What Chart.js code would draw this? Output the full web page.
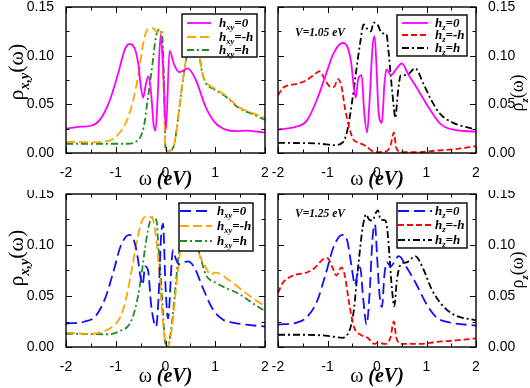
<!DOCTYPE html>
<html>
<head>
<meta charset="utf-8">
<script src="https://cdn.jsdelivr.net/npm/chart.js@4.4.1/dist/chart.umd.min.js"></script>
<style>
body { margin: 0; background: #fff; }
#wrap { position: relative; width: 530px; height: 388px; }
#wrap canvas { position: absolute; }
</style>
</head>
<body>
<div id="wrap">
  <canvas id="tl" width="270" height="190" style="left:0;top:0"></canvas>
  <canvas id="tr" width="260" height="190" style="left:270px;top:0"></canvas>
  <canvas id="bl" width="270" height="198" style="left:0;top:190px"></canvas>
  <canvas id="br" width="260" height="198" style="left:270px;top:190px"></canvas>
</div>
<script>
// ticks
const xTicks = [-2, -1, 0, 1, 2];
const yTicks = [0, 0.05, 0.10, 0.15];

// legend texts (h_sub + rest)
const legendRest = ['=0', '=-h', '=h'];
const subXY = 'xy';
const subZ = 'z';
const notes = ['V=1.05 eV', 'V=1.25 eV'];

// ---- top left: rho_xy, V=1.05 ----
const tlX0 = [-2,-1.7,-1.5,-1.32,-1.12,-0.95,-0.82,-0.72,-0.61,-0.54,-0.5,-0.45,-0.39,-0.34,-0.29,-0.24,-0.2,-0.16,-0.1,-0.05,0.01,0.08,0.18,0.28,0.45,0.61,0.81,1.0,1.21,1.41,1.61,2.0];
const tlY0 = [0.025,0.027,0.028,0.034,0.054,0.082,0.106,0.112,0.106,0.089,0.07,0.057,0.072,0.079,0.062,0.03,0.023,0.055,0.121,0.09,0.024,0.105,0.09,0.083,0.087,0.075,0.047,0.031,0.024,0.0225,0.023,0.021];
const tlXm = [-2,-1.46,-1.12,-0.95,-0.78,-0.65,-0.54,-0.46,-0.36,-0.24,-0.17,-0.12,-0.07,-0.02,0,0.05,0.15,0.21,0.28,0.35,0.41,0.5,0.6,0.68,0.74,0.81,1.0,1.21,1.48,1.75,2.0];
const tlYm = [0.0115,0.011,0.013,0.019,0.033,0.054,0.082,0.109,0.127,0.128,0.124,0.127,0.106,0.036,0.004,0.002,0.005,0.019,0.047,0.075,0.095,0.115,0.115,0.1,0.082,0.073,0.066,0.059,0.047,0.041,0.036];
const tlXp = [-2,-1.2,-0.78,-0.58,-0.44,-0.36,-0.27,-0.19,-0.12,-0.07,-0.02,0,0.05,0.15,0.21,0.28,0.35,0.41,0.5,0.6,0.68,0.74,0.81,1.0,1.21,1.48,1.75,2.0];
const tlYp = [0.0095,0.0095,0.0095,0.012,0.026,0.054,0.088,0.12,0.127,0.123,0.054,0.003,0.002,0.005,0.019,0.047,0.075,0.095,0.115,0.115,0.1,0.082,0.072,0.065,0.058,0.046,0.04,0.034];

// ---- top right: rho_z, V=1.05 ----
const trX0 = [-2,-1.63,-1.42,-1.22,-1.05,-0.88,-0.7,-0.59,-0.52,-0.47,-0.43,-0.38,-0.31,-0.26,-0.2,-0.15,-0.09,-0.05,-0.01,0.03,0.1,0.15,0.19,0.28,0.4,0.5,0.64,0.84,1.04,1.28,1.54,2.0];
const trY0 = [0.024,0.027,0.033,0.054,0.078,0.102,0.113,0.108,0.092,0.068,0.057,0.076,0.08,0.043,0.021,0.054,0.109,0.12,0.089,0.043,0.031,0.071,0.086,0.08,0.087,0.092,0.08,0.064,0.047,0.03,0.024,0.022];
const trXm = [-2,-1.9,-1.62,-1.42,-1.28,-1.16,-1.06,-0.94,-0.87,-0.79,-0.72,-0.65,-0.56,-0.48,-0.36,-0.22,-0.09,0.07,0.2,0.28,0.34,0.39,0.5,0.87,1.2,1.6,2.0];
const trYm = [0.059,0.067,0.071,0.075,0.08,0.084,0.076,0.068,0.068,0.076,0.069,0.047,0.026,0.014,0.0105,0.007,0.002,0.001,0.002,0.009,0.021,0.005,0.001,0.001,0.0025,0.004,0.007];
const trXp = [-2,-1.14,-0.87,-0.7,-0.6,-0.5,-0.41,-0.34,-0.27,-0.19,-0.12,-0.07,0.01,0.1,0.19,0.23,0.28,0.34,0.37,0.42,0.48,0.6,0.77,0.94,1.1,1.28,1.54,2.0];
const trYp = [0.0105,0.0095,0.008,0.0105,0.023,0.054,0.088,0.113,0.132,0.127,0.125,0.134,0.132,0.123,0.122,0.106,0.078,0.047,0.036,0.061,0.08,0.08,0.087,0.071,0.054,0.04,0.031,0.024];

// ---- bottom left: rho_xy, V=1.25 ----
const blX0 = [-2,-1.62,-1.41,-1.21,-1.04,-0.9,-0.73,-0.63,-0.56,-0.5,-0.46,-0.41,-0.35,-0.29,-0.22,-0.19,-0.14,-0.09,-0.05,0,0.05,0.15,0.21,0.28,0.45,0.58,0.75,0.95,1.15,1.35,1.61,2.0];
const blY0 = [0.023,0.025,0.03,0.048,0.075,0.099,0.11,0.104,0.088,0.068,0.061,0.079,0.075,0.042,0.022,0.02,0.048,0.107,0.121,0.06,0.028,0.095,0.086,0.081,0.084,0.078,0.058,0.037,0.027,0.024,0.022,0.02];
const blXm = [-2,-1.48,-1.21,-1.04,-0.9,-0.77,-0.67,-0.56,-0.46,-0.36,-0.26,-0.19,-0.12,-0.09,-0.04,0,0.05,0.11,0.18,0.25,0.31,0.4,0.5,0.6,0.68,0.81,0.9,1.01,1.21,1.48,1.75,2.0];
const blYm = [0.014,0.013,0.016,0.021,0.03,0.052,0.078,0.107,0.125,0.128,0.126,0.107,0.071,0.048,0.019,0.003,0.001,0.012,0.042,0.075,0.1,0.115,0.118,0.108,0.091,0.078,0.071,0.073,0.068,0.058,0.048,0.04];
const blXp = [-2,-1.14,-0.9,-0.73,-0.6,-0.5,-0.41,-0.33,-0.26,-0.18,-0.14,-0.09,-0.04,0,0.05,0.11,0.18,0.25,0.31,0.4,0.5,0.6,0.68,0.81,1.01,1.21,1.48,1.75,2.0];
const blYp = [0.013,0.0125,0.016,0.022,0.039,0.065,0.097,0.12,0.127,0.124,0.097,0.065,0.025,0.003,0.002,0.016,0.048,0.084,0.105,0.115,0.115,0.105,0.092,0.071,0.063,0.058,0.052,0.043,0.035];

// ---- bottom right: rho_z, V=1.25 ----
const brX0 = [-2,-1.62,-1.42,-1.21,-1.04,-0.87,-0.7,-0.6,-0.53,-0.48,-0.45,-0.38,-0.34,-0.28,-0.21,-0.15,-0.09,-0.04,0,0.05,0.1,0.15,0.2,0.27,0.44,0.6,0.8,1.0,1.2,1.47,2.0];
const brY0 = [0.022,0.024,0.029,0.045,0.071,0.099,0.11,0.104,0.084,0.068,0.061,0.075,0.078,0.048,0.022,0.052,0.107,0.12,0.09,0.052,0.039,0.071,0.083,0.079,0.089,0.078,0.061,0.042,0.029,0.024,0.021];
const brXm = [-2,-1.9,-1.7,-1.42,-1.25,-1.09,-1.0,-0.9,-0.82,-0.72,-0.65,-0.56,-0.46,-0.33,-0.19,-0.05,0,0.17,0.27,0.34,0.39,0.5,0.87,1.2,1.6,2.0];
const brYm = [0.053,0.063,0.07,0.073,0.078,0.086,0.087,0.078,0.07,0.078,0.07,0.042,0.019,0.012,0.009,0.003,0.004,0.003,0.009,0.025,0.009,0.003,0.003,0.005,0.0065,0.0085];
const brXp = [-2,-1.5,-1,-0.7,-0.6,-0.53,-0.46,-0.41,-0.36,-0.29,-0.22,-0.16,-0.09,-0.02,0.02,0.07,0.17,0.21,0.25,0.3,0.35,0.4,0.48,0.6,0.77,0.94,1.1,1.3,1.54,2.0];
const brYp = [0.012,0.012,0.011,0.009,0.012,0.02,0.039,0.065,0.088,0.117,0.13,0.125,0.124,0.132,0.134,0.125,0.124,0.114,0.091,0.058,0.04,0.065,0.081,0.083,0.089,0.076,0.057,0.042,0.032,0.026];

const SERIF = '"Liberation Serif", "Times New Roman", serif';
const SANS = '"Liberation Sans", Arial, sans-serif';

function series(xs, ys, color, dash) {
  return {
    data: xs.map((x, i) => ({ x: x, y: ys[i] })),
    borderColor: color,
    borderDash: dash,
    borderWidth: 1.8,
    pointRadius: 0,
    fill: false,
    cubicInterpolationMode: 'monotone'
  };
}

// frame + inward ticks on all four sides
const frameTicks = {
  id: 'frameTicks',
  afterDatasetsDraw(chart) {
    const ctx = chart.ctx, a = chart.chartArea, sx = chart.scales.x, sy = chart.scales.y;
    ctx.save();
    ctx.strokeStyle = '#000';
    ctx.lineWidth = 1;
    ctx.beginPath();
    for (let i = 0; i <= 8; i++) {
      const v = -2 + i * 0.5, len = i % 2 === 0 ? 6 : 3.5;
      const px = Math.round(sx.getPixelForValue(v)) + 0.5;
      ctx.moveTo(px, a.bottom); ctx.lineTo(px, a.bottom - len);
      ctx.moveTo(px, a.top); ctx.lineTo(px, a.top + len);
    }
    for (let i = 0; i <= 6; i++) {
      const v = i * 0.025, len = i % 2 === 0 ? 6 : 3.5;
      const py = Math.round(sy.getPixelForValue(v)) + 0.5;
      ctx.moveTo(a.left, py); ctx.lineTo(a.left + len, py);
      ctx.moveTo(a.right, py); ctx.lineTo(a.right - len, py);
    }
    ctx.stroke();
    ctx.lineWidth = 1.4;
    ctx.strokeRect(a.left, a.top, a.right - a.left, a.bottom - a.top);
    ctx.restore();
  }
};

// text with a subscript part, drawn left to right from x
function richText(ctx, x, y, parts) {
  for (const p of parts) {
    ctx.font = p.font;
    ctx.fillText(p.t, x, y + (p.dy || 0));
    x += ctx.measureText(p.t).width;
  }
  return x;
}
function richWidth(ctx, parts) {
  let w = 0;
  for (const p of parts) { ctx.font = p.font; w += ctx.measureText(p.t).width; }
  return w;
}

// legend box, note, axis titles
const panelDeco = {
  id: 'panelDeco',
  afterDraw(chart, args, o) {
    const ctx = chart.ctx, a = chart.chartArea;
    ctx.save();
    ctx.fillStyle = '#000';
    ctx.textBaseline = 'alphabetic';

    // x title
    const xt = [{ t: 'ω', font: '20px ' + SERIF }, { t: ' (eV)', font: 'bold italic 20px ' + SERIF }];
    richText(ctx, (a.left + a.right) / 2 - richWidth(ctx, xt) / 2, o.xTitleY, xt);

    // y title, rotated to read upwards
    const yt = [
      { t: 'ρ', font: o.yTitle.size + 'px ' + SERIF },
      { t: o.yTitle.sub, font: 'bold italic ' + o.yTitle.subSize + 'px ' + SERIF, dy: o.yTitle.size * 0.28 },
      { t: '(ω)', font: o.yTitle.size + 'px ' + SERIF }
    ];
    ctx.save();
    ctx.translate(o.yTitle.x, o.yTitle.y);
    ctx.rotate(-Math.PI / 2);
    richText(ctx, -richWidth(ctx, yt) / 2, o.yTitle.size * 0.3, yt);
    ctx.restore();

    // note
    if (o.note) {
      ctx.font = 'bold italic 11.5px ' + SERIF;
      ctx.fillText(o.note.text, o.note.x, o.note.y);
    }

    // legend
    const L = o.legend;
    ctx.fillStyle = '#fff';
    ctx.fillRect(L.x, L.y, L.w, L.h);
    ctx.strokeStyle = '#000';
    ctx.lineWidth = 1.4;
    ctx.strokeRect(L.x, L.y, L.w, L.h);
    chart.data.datasets.forEach((ds, i) => {
      const ry = L.rows[i];
      ctx.strokeStyle = ds.borderColor;
      ctx.lineWidth = 1.8;
      ctx.setLineDash(ds.borderDash || []);
      ctx.beginPath();
      ctx.moveTo(L.s1, ry); ctx.lineTo(L.s2, ry);
      ctx.stroke();
      ctx.setLineDash([]);
      ctx.fillStyle = '#000';
      richText(ctx, L.tx, ry + 4, [
        { t: 'h', font: 'bold italic 13px ' + SERIF },
        { t: L.sub, font: 'bold italic 8.5px ' + SERIF, dy: 3 },
        { t: legendRest[i], font: 'bold italic 13px ' + SERIF }
      ]);
    });
    ctx.restore();
  }
};

function makePanel(id, datasets, o) {
  new Chart(document.getElementById(id), {
    type: 'line',
    data: { datasets: datasets },
    options: {
      responsive: false,
      animation: false,
      devicePixelRatio: 1,
      layout: { padding: o.padding },
      plugins: { legend: { display: false }, tooltip: { enabled: false }, panelDeco: o },
      scales: {
        x: {
          type: 'linear', min: -2, max: 2,
          grid: { display: false },
          border: { display: false },
          afterBuildTicks: s => { s.ticks = xTicks.map(v => ({ value: v })); },
          ticks: {
            padding: 4, maxRotation: 0, autoSkip: false, color: '#000',
            font: { family: SANS, size: 14 },
            callback: v => String(v)
          },
          afterFit: s => { s.height = o.xHeight; s.paddingLeft = 0; s.paddingRight = 0; }
        },
        y: {
          type: 'linear', min: 0, max: 0.15, position: o.yPos,
          grid: { display: false },
          border: { display: false },
          afterBuildTicks: s => { s.ticks = yTicks.map(v => ({ value: v })); },
          ticks: {
            padding: 4, autoSkip: false, color: '#000',
            font: { family: SANS, size: 14 },
            callback: v => v.toFixed(2)
          },
          afterFit: s => { s.width = o.yWidth; s.paddingTop = 0; s.paddingBottom = 0; }
        }
      }
    },
    plugins: [frameTicks, panelDeco]
  });
}

const MAGENTA = '#ff00ff', ORANGE = '#ffa500', GREEN = '#1f8c1f';
const BLUE = '#1010ff', RED = '#ff0000', BLACK = '#000000';
const DASH = [9, 4], DASHDOT = [7, 3, 2, 3], LONGDASH = [11, 5], SHORTDASH = [6, 3];

makePanel('tl', [
  series(tlX0, tlY0, MAGENTA, []),
  series(tlXm, tlYm, ORANGE, DASH),
  series(tlXp, tlYp, GREEN, DASHDOT)
], {
  padding: { left: 0, right: 5, top: 7, bottom: 0 }, yPos: 'left', yWidth: 66, xHeight: 37,
  xTitleY: 185,
  yTitle: { x: 16, y: 72, size: 22, subSize: 14, sub: 'x,y' },
  legend: { x: 182, y: 14, w: 75, h: 43, rows: [23, 37, 50], s1: 187, s2: 211, tx: 219, sub: subXY }
});

makePanel('tr', [
  series(trX0, trY0, MAGENTA, []),
  series(trXm, trYm, RED, SHORTDASH),
  series(trXp, trYp, BLACK, DASHDOT)
], {
  padding: { left: 8, right: 0, top: 7, bottom: 0 }, yPos: 'right', yWidth: 54, xHeight: 37,
  xTitleY: 185,
  yTitle: { x: 248, y: 93, size: 18, subSize: 11, sub: 'z' },
  note: { text: notes[0], x: 25, y: 36 },
  legend: { x: 127, y: 15, w: 70, h: 41, rows: [23, 35, 48], s1: 132, s2: 158, tx: 165, sub: subZ }
});

makePanel('bl', [
  series(blX0, blY0, BLUE, LONGDASH),
  series(blXm, blYm, ORANGE, DASH),
  series(blXp, blYp, GREEN, DASHDOT)
], {
  padding: { left: 0, right: 5, top: 4, bottom: 0 }, yPos: 'left', yWidth: 66, xHeight: 41,
  xTitleY: 192,
  yTitle: { x: 16, y: 68, size: 22, subSize: 14, sub: 'x,y' },
  legend: { x: 179, y: 13, w: 74, h: 48, rows: [21, 36, 51], s1: 180, s2: 212, tx: 217, sub: subXY }
});

makePanel('br', [
  series(brX0, brY0, BLUE, LONGDASH),
  series(brXm, brYm, RED, SHORTDASH),
  series(brXp, brYp, BLACK, DASHDOT)
], {
  padding: { left: 8, right: 0, top: 4, bottom: 0 }, yPos: 'right', yWidth: 54, xHeight: 41,
  xTitleY: 192,
  yTitle: { x: 248, y: 80, size: 18, subSize: 11, sub: 'z' },
  note: { text: notes[1], x: 25, y: 27 },
  legend: { x: 127, y: 13, w: 70, h: 45, rows: [21, 35, 50], s1: 128, s2: 162, tx: 165, sub: subZ }
});
</script>
</body>
</html>
